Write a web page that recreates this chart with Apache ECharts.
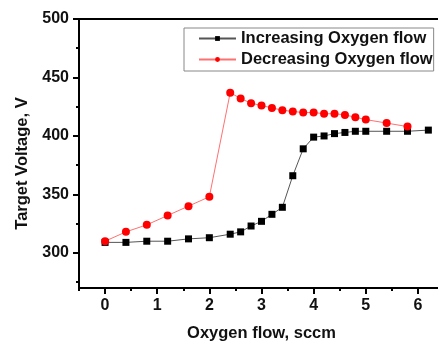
<!DOCTYPE html>
<html><head><meta charset="utf-8">
<script src="https://cdn.jsdelivr.net/npm/echarts@6/dist/echarts.min.js"></script>
<style>html,body{margin:0;padding:0;background:#fff}#c{width:438px;height:342px}</style>
</head><body><div id="c"></div>
<script>
const incX = [0, 0.4, 0.8, 1.2, 1.6, 2.0, 2.4, 2.6, 2.8, 3.0, 3.2, 3.4, 3.6, 3.8, 4.0, 4.2, 4.4, 4.6, 4.8, 5.0, 5.4, 5.8, 6.2];
const incY = [309, 309, 310, 310, 312, 313, 316, 318, 323, 327, 333, 339, 366, 389, 399, 400, 402, 403, 404, 404, 404, 404, 405];
const decX = [0, 0.4, 0.8, 1.2, 1.6, 2.0, 2.4, 2.6, 2.8, 3.0, 3.2, 3.4, 3.6, 3.8, 4.0, 4.2, 4.4, 4.6, 4.8, 5.0, 5.4, 5.8];
const decY = [310, 318, 324, 332, 340, 348, 437, 432, 428, 426, 424, 422, 421, 420, 420, 419, 419, 418, 416, 414, 411, 408];
const xMajor = [0, 1, 2, 3, 4, 5, 6];
const xMinor = [-0.5, 0.5, 1.5, 2.5, 3.5, 4.5, 5.5];
const yMajor = [300, 350, 400, 450, 500];
const yMinor = [275, 325, 375, 425, 475];
const seriesNames = ['Increasing Oxygen flow', 'Decreasing Oxygen flow'];
const xTitle = 'Oxygen flow, sccm';
const yTitle = 'Target Voltage, V';

const FONT = 'Arial, "Liberation Sans", sans-serif';
const chart = echarts.init(document.getElementById('c'));
const axisCommon = { splitLine: { show: false } };
chart.setOption({
  animation: false,
  grid: { left: 79, top: 19, right: -6, bottom: 54, containLabel: false, outerBoundsMode: 'none', show: true, borderColor: '#000', borderWidth: 2, backgroundColor: 'transparent' },
  legend: {
    orient: 'vertical', left: 184, top: 28,
    data: seriesNames,
    itemWidth: 37, itemHeight: 6, itemGap: 4,
    padding: [2, 1, 3, 14],
    borderColor: '#888', borderWidth: 1,
    textStyle: { fontFamily: FONT, fontWeight: 'bold', fontSize: 16.5, color: '#111' }
  },
  xAxis: [
    Object.assign({}, axisCommon, {
      type: 'value', min: -0.5, max: 6.5, position: 'bottom',
      axisLine: { show: true, onZero: false, lineStyle: { color: '#000', width: 2 } },
      axisTick: { show: true, customValues: xMajor, length: 6, lineStyle: { color: '#000', width: 2 } },
      axisLabel: { customValues: xMajor, margin: 10, fontFamily: FONT, fontWeight: 'bold', fontSize: 16, color: '#111' },
      name: xTitle, nameLocation: 'middle', nameGap: 37,
      nameTextStyle: { fontFamily: FONT, fontWeight: 'bold', fontSize: 16.5, color: '#111' }
    }),
    Object.assign({}, axisCommon, {
      type: 'value', min: -0.5, max: 6.5, position: 'bottom',
      axisLine: { show: false, onZero: false },
      axisTick: { show: true, customValues: xMinor, length: 3, lineStyle: { color: '#000', width: 2 } },
      axisLabel: { show: false }
    })
  ],
  yAxis: [
    Object.assign({}, axisCommon, {
      type: 'value', min: 270, max: 500, position: 'left',
      axisLine: { show: true, onZero: false, lineStyle: { color: '#000', width: 2 } },
      axisTick: { show: true, customValues: yMajor, length: 6, lineStyle: { color: '#000', width: 2 } },
      axisLabel: { customValues: yMajor, margin: 10, fontFamily: FONT, fontWeight: 'bold', fontSize: 16, color: '#111' },
      name: yTitle, nameLocation: 'middle', nameGap: 40, nameRotate: 90,
      nameTextStyle: { fontFamily: FONT, fontWeight: 'bold', fontSize: 16.5, color: '#111', padding: [0, 20, 0, 0] }
    }),
    Object.assign({}, axisCommon, {
      type: 'value', min: 270, max: 500, position: 'left',
      axisLine: { show: false, onZero: false },
      axisTick: { show: true, customValues: yMinor, length: 3, lineStyle: { color: '#000', width: 2 } },
      axisLabel: { show: false }
    })
  ],
  series: [
    {
      name: seriesNames[0], type: 'line', xAxisIndex: 0, yAxisIndex: 0,
      data: incX.map((x, i) => [x, incY[i]]),
      symbol: 'rect', symbolSize: 7,
      itemStyle: { color: '#000' },
      lineStyle: { color: '#555', width: 1 }
    },
    {
      name: seriesNames[1], type: 'line', xAxisIndex: 0, yAxisIndex: 0,
      data: decX.map((x, i) => [x, decY[i]]),
      symbol: 'circle', symbolSize: 8,
      itemStyle: { color: '#ff0000' },
      lineStyle: { color: '#ff7070', width: 1 }
    }
  ]
});
</script></body></html>
